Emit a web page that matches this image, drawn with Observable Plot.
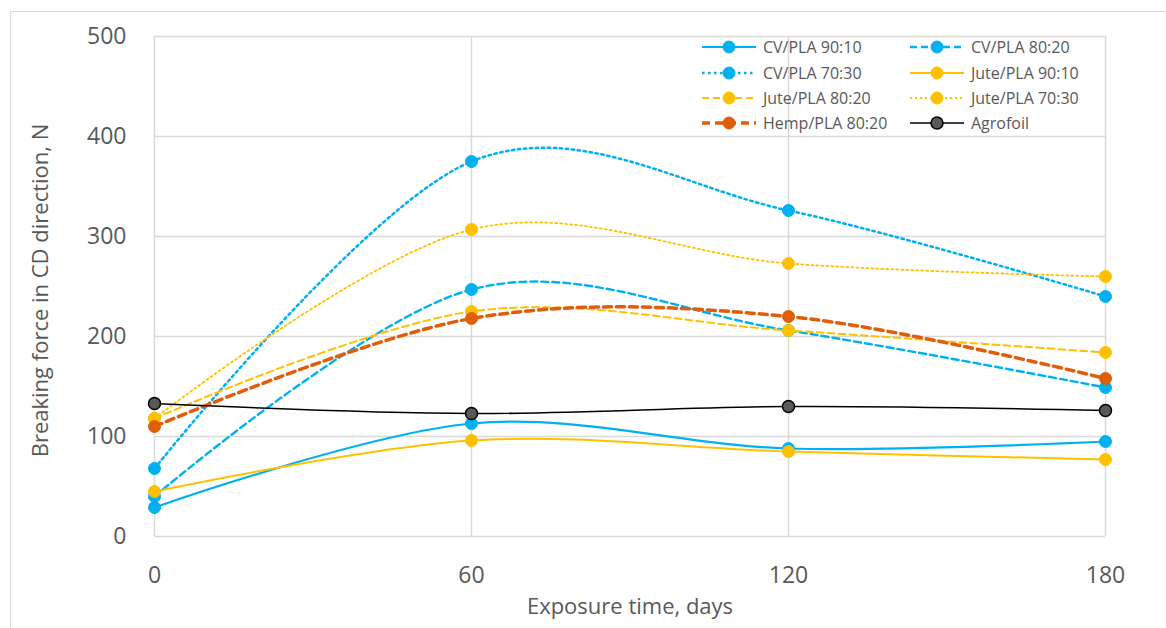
<!DOCTYPE html>
<html><head><meta charset="utf-8">
<script src="https://cdn.jsdelivr.net/npm/d3@7"></script>
<script src="https://cdn.jsdelivr.net/npm/@observablehq/plot@0.6"></script>
<style>
body{margin:0;background:#fff;font-family:"Open Sans",sans-serif;}
#wrap{position:relative;width:1166px;height:628px;overflow:hidden;background:#fff;}
#border{position:absolute;left:10px;top:11px;width:1300px;height:800px;border:1.5px solid #d9d9d9;}
#chart{position:absolute;left:0;top:0;}
#legend{position:absolute;left:690px;top:30px;}
</style></head><body>
<div id="wrap"><div id="border"></div><div id="chart"></div><div id="legend"></div></div>
<script>
// ---- data ----
const days = [0, 60, 120, 180];
const yTicks = [0, 100, 200, 300, 400, 500];
const seriesNames = ["CV/PLA 90:10", "CV/PLA 80:20", "CV/PLA 70:30", "Jute/PLA 90:10",
  "Jute/PLA 80:20", "Jute/PLA 70:30", "Hemp/PLA 80:20", "Agrofoil"];
const cv9010   = [29, 113, 88, 95];
const cv8020   = [40, 247, 206, 149];
const cv7030   = [68, 375, 326, 240];
const jute9010 = [45, 96, 85, 77];
const jute8020 = [118, 225, 206, 184];
const jute7030 = [118, 307, 273, 260];
const hemp8020 = [110, 218, 220, 158];
const agrofoil = [133, 123, 130, 126];
const xLabel = "Exposure time, days";
const yLabel = "Breaking force in CD direction, N";

// ---- styles ----
const BLUE = "#00B0F0", YEL = "#FFC000", ORG = "#E05E0A";
const styles = [
  {color: BLUE, w: 2.2, dash: null},
  {color: BLUE, w: 2.4, dash: "7,4"},
  {color: BLUE, w: 2.5, dash: "2.5,3.5"},
  {color: YEL, w: 2, dash: null},
  {color: YEL, w: 2, dash: "7,4"},
  {color: YEL, w: 1.8, dash: "2,3"},
  {color: ORG, w: 3.5, dash: "8,5"},
  {color: "#000", w: 1.6, dash: null, fill: "#595959"}
];
const allValues = [cv9010, cv8020, cv7030, jute9010, jute8020, jute7030, hemp8020, agrofoil];
const tables = allValues.map((vals, k) => days.map((d, i) => ({day: d, value: vals[i], series: seriesNames[k]})));

const seriesMarks = tables.flatMap((t, k) => {
  const s = styles[k];
  return [
    Plot.line(t, {x: "day", y: "value", curve: "cardinal", stroke: s.color, strokeWidth: s.w,
      strokeDasharray: s.dash || undefined}),
    Plot.dot(t, {x: "day", y: "value", r: 6, fill: s.fill || s.color,
      stroke: s.fill ? "#000" : s.color, strokeWidth: s.fill ? 1.5 : 1})
  ];
});

const chart = Plot.plot({
  width: 1166, height: 628,
  marginLeft: 154, marginRight: 61, marginTop: 36, marginBottom: 92,
  style: {fontFamily: "'Open Sans', sans-serif", fontSize: "23px", color: "#595959", background: "transparent", overflow: "visible"},
  x: {domain: [0, 180], label: null},
  y: {domain: [0, 500], label: null},
  marks: [
    Plot.gridX(days, {stroke: "#d9d9d9", strokeOpacity: 1, strokeWidth: 1.5}),
    Plot.gridY(yTicks, {stroke: "#d9d9d9", strokeOpacity: 1, strokeWidth: 1.5}),
    Plot.axisY(yTicks, {tickSize: 0, tickPadding: 28, label: null, fontSize: 23}),
    Plot.axisX(days, {tickSize: 0, tickPadding: 30, label: null, fontSize: 23}),
    Plot.text([xLabel], {frameAnchor: "bottom", textAnchor: "middle", lineAnchor: "middle", dy: 70, fontSize: 22, fill: "#595959"}),
    Plot.text([yLabel], {frameAnchor: "left", textAnchor: "middle", lineAnchor: "middle", dx: -114, dy: 4, rotate: -90, fontSize: 22, fill: "#595959"}),
    ...seriesMarks
  ]
});
document.getElementById("chart").appendChild(chart);

// ---- legend ----
const lg = d3.select("#legend").append("svg").attr("width", 460).attr("height", 110)
  .style("font-family", "'Open Sans', sans-serif");
const rowY = [17, 43, 68, 93];
const colX = [12, 220];
seriesNames.forEach((name, k) => {
  const s = styles[k];
  const g = lg.append("g").attr("transform", `translate(${colX[k % 2]},${rowY[Math.floor(k / 2)]})`);
  g.append("line").attr("x1", 0).attr("x2", 54).attr("y1", 0).attr("y2", 0)
    .attr("stroke", s.color).attr("stroke-width", s.w).attr("stroke-dasharray", s.dash);
  g.append("circle").attr("cx", 27).attr("cy", 0).attr("r", 6)
    .attr("fill", s.fill || s.color).attr("stroke", s.fill ? "#000" : s.color).attr("stroke-width", s.fill ? 1.5 : 1);
  g.append("text").attr("x", 61).attr("y", 0).attr("dy", "0.35em").attr("font-size", 16)
    .attr("fill", "#595959").text(name);
});
</script>
</body></html>
